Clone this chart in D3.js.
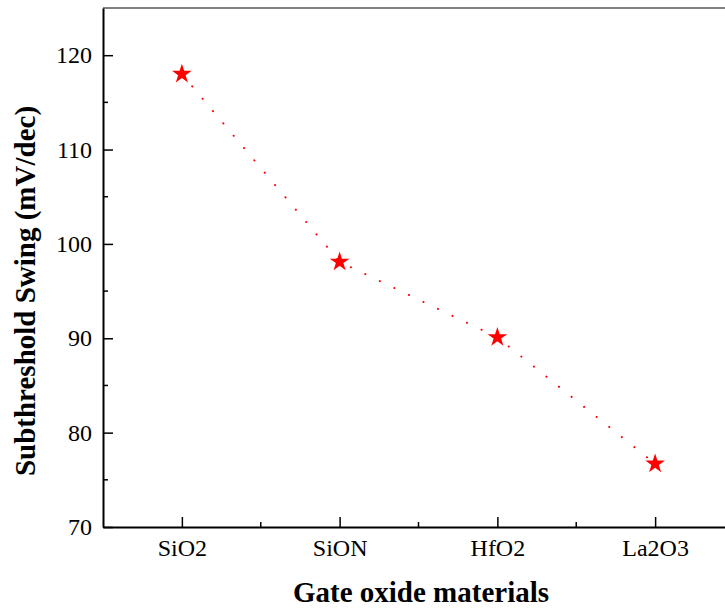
<!DOCTYPE html>
<html>
<head>
<meta charset="utf-8">
<script src="https://cdn.jsdelivr.net/npm/d3@7"></script>
<style>
  body { margin: 0; background: #fff; }
  text { font-family: "Liberation Serif", "Times New Roman", serif; }
</style>
</head>
<body>
<div id="chart"></div>
<script>
var width = 725,
    height = 610;

var materials = ["SiO2", "SiON", "HfO2", "La2O3"];
var swing = [118.0, 98.1, 90.1, 76.7];
var yTicks = [70, 80, 90, 100, 110, 120];

var plotLeft = 103, plotTop = 8, plotRight = 734, plotBottom = 527;

var svg = d3.select('#chart').append('svg')
    .attr('width', width)
    .attr('height', height);

var x = d3.scaleLinear().domain([0.5, 4.5]).range([plotLeft, plotRight]);
var y = d3.scaleLinear().domain([70, 125]).range([plotBottom, plotTop]);

// top frame line (grey)
svg.append('line')
    .attr('x1', plotLeft).attr('x2', plotRight)
    .attr('y1', y(125)).attr('y2', y(125))
    .attr('stroke', '#808080').attr('stroke-width', 2);

// minor ticks
var minorY = d3.range(75, 125, 10);
svg.selectAll('.ymin').data(minorY).enter().append('line')
    .attr('x1', plotLeft).attr('x2', plotLeft + 5)
    .attr('y1', function(d) { return y(d); })
    .attr('y2', function(d) { return y(d); })
    .attr('stroke', '#000').attr('stroke-width', 1.5);

var minorX = [1.5, 2.5, 3.5];
svg.selectAll('.xmin').data(minorX).enter().append('line')
    .attr('x1', function(d) { return x(d); })
    .attr('x2', function(d) { return x(d); })
    .attr('y1', plotBottom).attr('y2', plotBottom - 5)
    .attr('stroke', '#000').attr('stroke-width', 1.5);

// y axis
var yAxis = svg.append('g')
    .attr('transform', 'translate(' + plotLeft + ',0)')
    .call(d3.axisLeft(y).tickValues(yTicks).tickSizeInner(-10).tickSizeOuter(0).tickPadding(11));
yAxis.select('.domain').attr('stroke-width', 2);
yAxis.selectAll('.tick line').attr('stroke-width', 1.5);
yAxis.selectAll('text').attr('font-size', 24).attr('font-family', '"Liberation Serif", serif');

// x axis
var xAxis = svg.append('g')
    .attr('transform', 'translate(0,' + plotBottom + ')')
    .call(d3.axisBottom(x).tickValues([1, 2, 3, 4])
        .tickFormat(function(d) { return materials[d - 1]; })
        .tickSizeInner(-10).tickSizeOuter(0).tickPadding(12));
xAxis.select('.domain').attr('stroke-width', 2);
xAxis.selectAll('.tick line').attr('stroke-width', 1.5);
xAxis.selectAll('text').attr('font-size', 24).attr('font-family', '"Liberation Serif", serif');

// dotted line
var line = d3.line()
    .x(function(d, i) { return x(i + 1); })
    .y(function(d) { return y(d); });

svg.append('path')
    .datum(swing)
    .attr('d', line)
    .attr('fill', 'none')
    .attr('stroke', '#ff0000')
    .attr('stroke-width', 2)
    .attr('stroke-linecap', 'round')
    .attr('stroke-dasharray', '0.1 16');

// star markers
var star = d3.symbol().type(d3.symbolStar).size(120);
svg.selectAll('.pt').data(swing).enter().append('path')
    .attr('d', star)
    .attr('transform', function(d, i) { return 'translate(' + x(i + 1) + ',' + y(d) + ')'; })
    .attr('fill', '#ff0000');

// axis titles
svg.append('text')
    .attr('x', 421).attr('y', 602)
    .attr('text-anchor', 'middle')
    .attr('font-size', 29).attr('font-weight', 'bold')
    .text('Gate oxide materials');

svg.append('text')
    .attr('transform', 'translate(35,291) rotate(-90)')
    .attr('text-anchor', 'middle')
    .attr('font-size', 29).attr('font-weight', 'bold')
    .text('Subthreshold Swing (mV/dec)');
</script>
</body>
</html>
